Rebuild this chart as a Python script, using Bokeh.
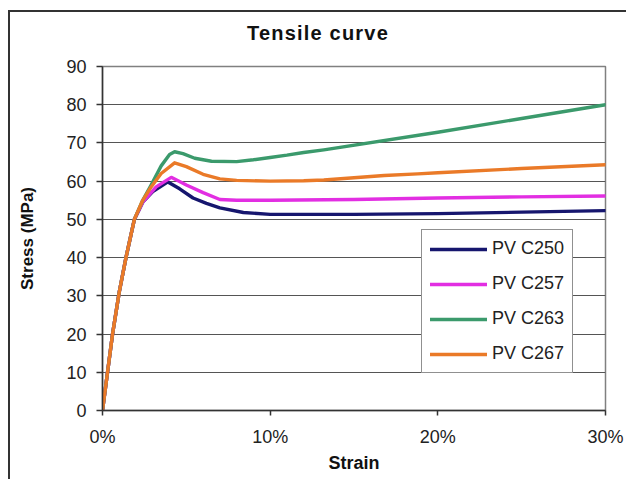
from bokeh.plotting import figure
from bokeh.models import Range1d, FixedTicker, PrintfTickFormatter, Legend, LegendItem, Div
from bokeh.layouts import column
from bokeh.embed import file_html
from bokeh.resources import INLINE

# ---- data (strain in %, stress in MPa) ----
series_names = ["PV C250", "PV C257", "PV C263", "PV C267"]
series_colors = ["#16166e", "#e22ee2", "#3b9a6c", "#ea7a28"]

strain_250 = [0, 0.6, 1.0, 1.4, 1.9, 2.4, 3.0, 3.9, 4.6, 5.4, 6.2, 7.0, 8.4, 10, 15, 20, 25, 30]
stress_250 = [0, 20, 31, 40, 50, 54.5, 57.3, 59.8, 58.0, 55.6, 54.2, 53.0, 51.8, 51.3, 51.3, 51.5, 51.9, 52.3]

strain_257 = [0, 0.6, 1.0, 1.4, 1.9, 2.4, 3.2, 4.1, 5.0, 6.0, 7.0, 8.0, 10, 15, 20, 25, 30]
stress_257 = [0, 20, 31, 40, 50, 54.5, 58.5, 61.0, 59.0, 57.0, 55.2, 55.0, 55.0, 55.2, 55.6, 55.9, 56.1]

strain_263 = [0, 0.6, 1.0, 1.4, 1.9, 2.4, 2.9, 3.5, 4.0, 4.3, 4.8, 5.5, 6.5, 8.0, 9.0, 10, 11, 12, 13.2, 20, 25, 30]
stress_263 = [0, 20, 31, 40, 50, 55, 59, 64, 67, 67.7, 67.2, 66.0, 65.2, 65.1, 65.6, 66.2, 66.8, 67.5, 68.2, 72.8, 76.4, 80.0]

strain_267 = [0, 0.6, 1.0, 1.4, 1.9, 2.4, 2.9, 3.5, 4.3, 5.0, 6.0, 7.0, 8.0, 10, 12, 13.2, 16.8, 18.8, 20, 25, 30]
stress_267 = [0, 20, 31, 40, 50, 55, 58.5, 62, 64.8, 63.8, 61.8, 60.6, 60.2, 60.0, 60.1, 60.3, 61.5, 61.9, 62.2, 63.3, 64.3]

x_ticks = [0, 10, 20, 30]
y_ticks = [0, 10, 20, 30, 40, 50, 60, 70, 80, 90]
title_text = "Tensile curve"

FONT = "Liberation Sans"

title_div = Div(text=title_text, width=616, height=40, margin=0,
                styles={"font-family": FONT, "font-size": "20px", "font-weight": "bold",
                        "color": "#111111", "text-align": "center", "width": "616px",
                        "padding-top": "7px", "letter-spacing": "1.2px",
                        "background-color": "white"})

p = figure(width=616, height=427, output_backend="svg", toolbar_location=None,
           x_range=Range1d(0, 30), y_range=Range1d(0, 90), margin=0,
           min_border_left=92, min_border_right=21, min_border_top=14, min_border_bottom=69)

p.outline_line_color = "#808080"
p.outline_line_width = 1.5
p.background_fill_color = "white"
p.border_fill_color = "white"

p.xgrid.grid_line_color = None
p.ygrid.grid_line_color = "#555555"
p.ygrid.grid_line_width = 1.2
p.ygrid.ticker = FixedTicker(ticks=y_ticks)

for ax in (p.xaxis[0], p.yaxis[0]):
    ax.axis_line_color = "#333333"
    ax.axis_line_width = 1.5
    ax.major_tick_line_color = "#333333"
    ax.major_tick_line_width = 1.5
    ax.minor_tick_line_color = None
    ax.major_tick_in = 0
    ax.major_label_text_font = FONT
    ax.major_label_text_font_size = "18px"
    ax.major_label_text_color = "#222222"
    ax.axis_label_text_font = FONT
    ax.axis_label_text_font_style = "bold"
    ax.axis_label_text_font_size = "18px"
    ax.axis_label_text_color = "#111111"

p.xaxis.ticker = FixedTicker(ticks=x_ticks)
p.xaxis.formatter = PrintfTickFormatter(format="%d%%")
p.xaxis.major_tick_out = 5
p.xaxis.major_label_standoff = 11
p.xaxis.axis_label = "Strain"
p.xaxis.axis_label_standoff = 3

p.yaxis.ticker = FixedTicker(ticks=y_ticks)
p.yaxis.major_tick_out = 6
p.yaxis.major_label_standoff = 10
p.yaxis.axis_label = "Stress (MPa)"
p.yaxis.axis_label_text_font_size = "17px"
p.yaxis.axis_label_standoff = 26

xs = [strain_250, strain_257, strain_263, strain_267]
ys = [stress_250, stress_257, stress_263, stress_267]
items = []
for name, color, x, y in zip(series_names, series_colors, xs, ys):
    r = p.line(x, y, line_color=color, line_width=3.4, line_join="round", line_cap="round")
    items.append(LegendItem(label=name, renderers=[r]))

legend = Legend(items=items, location=(319, 37))
legend.border_line_color = "#222222"
legend.border_line_width = 1.2
legend.background_fill_color = "white"
legend.background_fill_alpha = 1
legend.label_text_font = FONT
legend.label_text_font_size = "18px"
legend.label_text_color = "#222222"
legend.glyph_width = 57
legend.glyph_height = 20
legend.label_height = 20
legend.spacing = 14
legend.padding = 8
legend.margin = 0
legend.label_standoff = 5
p.add_layout(legend, "center")

layout = column(title_div, p, spacing=0, margin=0)
layout.styles = {"margin-left": "8px", "margin-top": "10px",
                 "border-left": "2px solid #333333", "border-top": "2px solid #333333",
                 "background-color": "white"}

open("out.html", "w").write(file_html(layout, INLINE))
